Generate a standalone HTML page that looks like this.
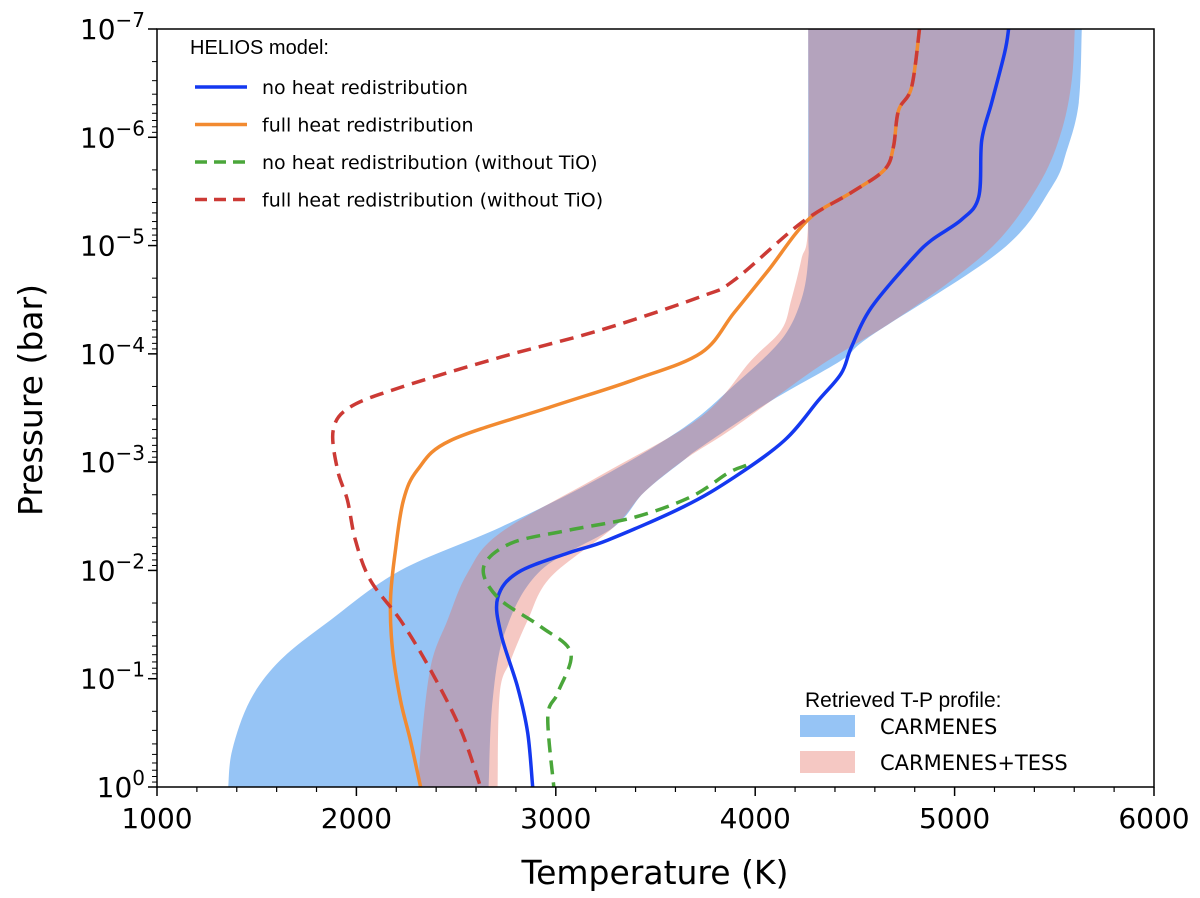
<!DOCTYPE html>
<html><head><meta charset="utf-8"><style>
body{margin:0;background:#fff;}
svg{display:block;font-family:"DejaVu Sans","Liberation Sans",sans-serif;}
</style></head><body>
<svg id="chart" width="1200" height="898"></svg>
<script>
const xTicks=[1000,2000,3000,4000,5000,6000];
const yExps=[-7,-6,-5,-4,-3,-2,-1,0];
const blueT=[5271,5251,5186,5136,5121,5035,4884,4784,4583,4482,4432,4317,4146,3894,3643,3261,3060,2809,2709,2724,2809,2859,2884];
const blueLogP=[-7,-6.78,-6.32,-5.97,-5.45,-5.24,-5.05,-4.87,-4.43,-4.06,-3.82,-3.57,-3.20,-2.86,-2.59,-2.28,-2.16,-1.98,-1.75,-1.42,-0.92,-0.50,0];
const orangeT=[4824,4784,4719,4693,4648,4482,4266,4065,3894,3729,3392,2975,2472,2307,2236,2196,2171,2181,2221,2271,2322];
const orangeLogP=[-7,-6.46,-6.25,-5.91,-5.70,-5.49,-5.24,-4.77,-4.38,-4.01,-3.76,-3.51,-3.20,-2.93,-2.65,-2.19,-1.73,-1.27,-0.80,-0.43,0];
const redT=[4824,4784,4719,4693,4648,4482,4231,3894,3729,3226,2724,2221,1970,1884,1905,1955,1995,2070,2221,2372,2523,2623];
const redLogP=[-7,-6.46,-6.25,-5.91,-5.70,-5.49,-5.21,-4.68,-4.53,-4.22,-3.97,-3.69,-3.51,-3.30,-2.93,-2.65,-2.28,-1.91,-1.54,-1.08,-0.53,0];
const greenT=[3955,3864,3678,3392,3060,2774,2638,2709,2925,3075,3010,2960,2990];
const greenLogP=[-2.97,-2.90,-2.68,-2.49,-2.37,-2.25,-2.03,-1.75,-1.48,-1.24,-0.87,-0.65,0];
const carmLeftT=[4266,4266,4266,4231,4131,3894,3643,3226,2724,2221,1869,1618,1467,1377,1357];
const carmLeftLogP=[-7,-5.24,-4.87,-4.50,-4.13,-3.71,-3.32,-2.86,-2.40,-2.00,-1.54,-1.17,-0.80,-0.34,0];
const carmRightT=[5638,5623,5563,5487,5236,4583,4432,4065,3729,3643,3442,3291,2925,2749,2683,2663];
const carmRightLogP=[-7,-6.32,-5.88,-5.54,-4.96,-4.17,-3.94,-3.55,-3.14,-3.02,-2.72,-2.40,-2.00,-1.45,-0.80,0];
const tessLeftT=[4266,4266,4231,4181,4131,3980,3729,3226,2724,2558,2457,2372,2322,2312];
const tessLeftLogP=[-7,-5.24,-4.87,-4.50,-4.22,-3.94,-3.42,-2.88,-2.35,-1.98,-1.54,-1.11,-0.34,0];
const tessRightT=[5603,5588,5538,5437,5236,4985,4648,4317,3894,3643,3442,3291,2975,2859,2774,2719,2708];
const tessRightLogP=[-7,-6.53,-6.07,-5.61,-5.08,-4.68,-4.25,-3.88,-3.32,-3.02,-2.72,-2.40,-1.94,-1.54,-1.17,-0.87,0];

const L=157,R=1154,T0=29,B=787;
const X=t=>L+(t-1000)/5000*(R-L);
const Y=lp=>T0+(lp+7)/7*(B-T0);
const NS='http://www.w3.org/2000/svg';
const svg=document.getElementById('chart');
function mk(tag,attrs,parent){const e=document.createElementNS(NS,tag);for(const k in attrs)e.setAttribute(k,attrs[k]);(parent||svg).appendChild(e);return e;}
function smooth(pts,start){
  let d=(start?'M':'L')+pts[0][0].toFixed(1)+' '+pts[0][1].toFixed(1);
  for(let i=0;i<pts.length-1;i++){
    const p0=pts[Math.max(0,i-1)],p1=pts[i],p2=pts[i+1],p3=pts[Math.min(pts.length-1,i+2)];
    const c1=[p1[0]+(p2[0]-p0[0])/6,p1[1]+(p2[1]-p0[1])/6],c2=[p2[0]-(p3[0]-p1[0])/6,p2[1]-(p3[1]-p1[1])/6];
    d+=' C'+c1[0].toFixed(1)+' '+c1[1].toFixed(1)+' '+c2[0].toFixed(1)+' '+c2[1].toFixed(1)+' '+p2[0].toFixed(1)+' '+p2[1].toFixed(1);
  }
  return d;
}
const defs=mk('defs',{});
const cp=mk('clipPath',{id:'clip'},defs);mk('rect',{x:L,y:T0,width:R-L,height:B-T0},cp);
const g=mk('g',{'clip-path':'url(#clip)'});
function band(lt,lp,rt,rp,fill,op,name){
  const left=lt.map((t,i)=>[X(t),Y(lp[i])]);
  const right=rt.map((t,i)=>[X(t),Y(rp[i])]).reverse();
  const d=smooth(left,true)+' '+smooth(right,false)+' Z';
  const e=mk('path',{d:d,fill:fill,'fill-opacity':op},g);
  
  
}
band(carmLeftT,carmLeftLogP,carmRightT,carmRightLogP,'rgb(150,196,245)',1,'carmenes-band');
band(tessLeftT,tessLeftLogP,tessRightT,tessRightLogP,'rgb(229,110,97)',0.38,'carmenes-tess-band');
function curve(ts,ps,color,dash,name){
  const d=smooth(ts.map((t,i)=>[X(t),Y(ps[i])]),true);
  const e=mk('path',{d:d,fill:'none',stroke:color,'stroke-width':3.5,'stroke-linejoin':'round','stroke-dasharray':dash},g);
  
  
}
curve(orangeT,orangeLogP,'#f28a30','none','full-heat-curve');
curve(blueT,blueLogP,'#1438f0','none','no-heat-curve');
curve(greenT,greenLogP,'#4aa63a','14 8','no-heat-no-tio-curve');
curve(redT,redLogP,'#cc3a35','14 8','full-heat-no-tio-curve');
const fr=mk('rect',{x:L,y:T0,width:R-L,height:B-T0,fill:'none',stroke:'#000','stroke-width':1.5});


xTicks.forEach(v=>{
  mk('line',{x1:X(v),x2:X(v),y1:B,y2:B+9,stroke:'#000','stroke-width':1.5});
  const t=mk('text',{x:X(v),y:B+41,'text-anchor':'middle','font-size':28});t.textContent=v;
  
  
});
for(let v=1000;v<6000;v+=200){if(v%1000)mk('line',{x1:X(v),x2:X(v),y1:B,y2:B+5,stroke:'#000','stroke-width':1.2});}
yExps.forEach(v=>{
  mk('line',{x1:L-9,x2:L,y1:Y(v),y2:Y(v),stroke:'#000','stroke-width':1.5});
  const t=mk('text',{x:L-12,y:Y(v)+10,'text-anchor':'end','font-size':28});
  t.innerHTML='10<tspan dy="-12" font-size="20">'+(v<0?'\u2212'+(-v):v)+'</tspan>';
  
  
  if(v<0)for(let k=2;k<10;k++){const yy=Y(v+Math.log10(k));mk('line',{x1:L-5,x2:L,y1:yy,y2:yy,stroke:'#000','stroke-width':1});}
});
const xl=mk('text',{x:655,y:884,'text-anchor':'middle','font-size':33});xl.textContent='Temperature (K)';


const yl=mk('text',{x:42,y:400,'text-anchor':'middle','font-size':33,transform:'rotate(-90 42 400)'});yl.textContent='Pressure (bar)';


const lg=mk('g',{'font-family':'Liberation Sans, sans-serif'});


const ht=mk('text',{x:190,y:54,'font-size':20},lg);ht.textContent='HELIOS model:';
const ents=[['no heat redistribution','#1438f0','none'],['full heat redistribution','#f28a30','none'],['no heat redistribution (without TiO)','#4aa63a','12 7'],['full heat redistribution (without TiO)','#cc3a35','12 7']];
ents.forEach((e,i)=>{const y=87+i*37.5;
  mk('line',{x1:195,x2:247,y1:y,y2:y,stroke:e[1],'stroke-width':3.5,'stroke-dasharray':e[2]},lg);
  const t=mk('text',{x:262,y:y+7,'font-size':19,'font-family':'DejaVu Sans, sans-serif'},lg);t.textContent=e[0];
  
  
});
const rg=mk('g',{'font-family':'Liberation Sans, sans-serif'});


const rt=mk('text',{x:805,y:707,'font-size':21},rg);rt.textContent='Retrieved T-P profile:';
mk('rect',{x:800,y:715,width:55,height:22,fill:'rgb(150,196,245)'},rg);
mk('rect',{x:800,y:751,width:55,height:22,fill:'rgb(245,200,195)'},rg);
const a=mk('text',{x:880,y:734,'font-size':21,'font-family':'DejaVu Sans, sans-serif'},rg);a.textContent='CARMENES';
const b=mk('text',{x:880,y:770,'font-size':21,'font-family':'DejaVu Sans, sans-serif'},rg);b.textContent='CARMENES+TESS';
</script>
</body></html>
